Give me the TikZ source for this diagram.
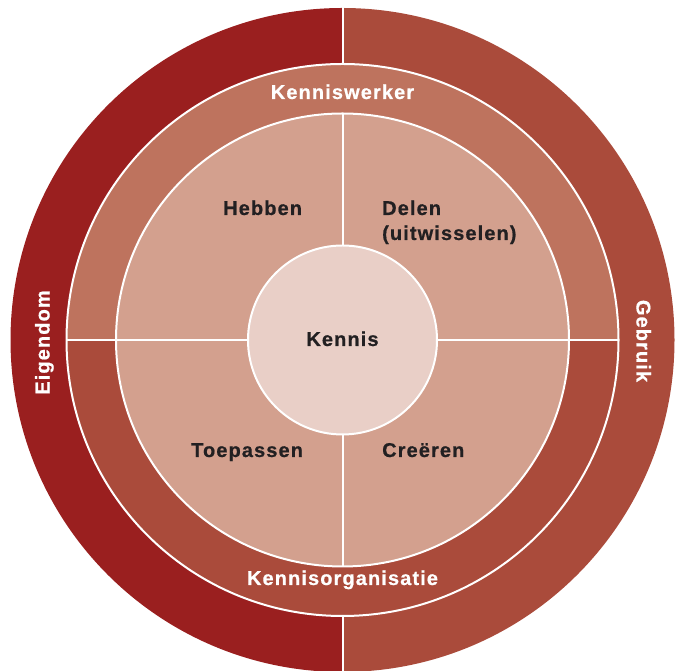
\documentclass[tikz,border=0pt]{standalone}
\usepackage{fontspec}
\setmainfont{Liberation Sans}
\newfontfamily\labfont{Liberation Sans}[LetterSpace=5.5,BoldFeatures={FakeBold=0.6}]
\definecolor{outL}{HTML}{9A1F1F}
\definecolor{outR}{HTML}{AA4B3B}
\definecolor{midT}{HTML}{BE735E}
\definecolor{midB}{HTML}{AA4B3B}
\definecolor{quad}{HTML}{D3A08E}
\definecolor{centre}{HTML}{E9CFC7}
\definecolor{ink}{HTML}{222022}
\begin{document}
\begin{tikzpicture}[x=1pt,y=1pt,
  wl/.style={draw=white,line width=2pt},
  lab/.style={font=\labfont\bfseries\fontsize{20}{25}\selectfont,inner sep=0pt},
  ringlab/.style={lab,text=white},
  quadlab/.style={lab,text=ink,anchor=base west}]
\useasboundingbox (0,0) rectangle (680,671);
\clip (0,0) rectangle (680,671);
\coordinate (C) at (342.5,331);
% outer ring halves
\fill[outL] (C) ++(0,332) arc[start angle=90,end angle=270,radius=332] -- cycle;
\fill[outR] (C) ++(0,332) arc[start angle=90,end angle=-90,radius=332] -- cycle;
\draw[wl] ([yshift=340pt]C) -- ([yshift=-340pt]C);
% middle ring halves
\fill[midT] (C) ++(276,0) arc[start angle=0,end angle=180,radius=276] -- cycle;
\fill[midB] (C) ++(276,0) arc[start angle=0,end angle=-180,radius=276] -- cycle;
\draw[wl] (C) circle[radius=276];
\draw[wl] ([xshift=-276pt]C) -- ([xshift=276pt]C);
% inner quadrants
\fill[quad] (C) circle[radius=226.5];
\draw[wl] (C) circle[radius=226.5];
\draw[wl] ([xshift=-226.5pt]C) -- ([xshift=226.5pt]C);
\draw[wl] ([yshift=226.5pt]C) -- ([yshift=-226.5pt]C);
% centre
\fill[centre] (C) circle[radius=94.5];
\draw[wl] (C) circle[radius=94.5];
% labels
\node[lab,text=ink,anchor=base] (kennis) at (342.5,325) {Kennis};
\node[quadlab] (hebben) at (223,456) {Hebben};
\node[quadlab] (delen) at (382,456) {Delen};
\node[quadlab] (uitw) at (382,431) {(uitwisselen)};
\node[quadlab] (toep) at (191,214) {Toepassen};
\node[quadlab] (creeren) at (382,214) {Creëren};
\node[ringlab,anchor=base] (kw) at (342.5,572) {Kenniswerker};
\node[ringlab,anchor=base] (ko) at (342.5,86) {Kennisorganisatie};
\node[ringlab,anchor=base,rotate=90] (eig) at (49.5,328.5) {Eigendom};
\node[ringlab,anchor=base,rotate=-90] (geb) at (636.5,330) {Gebruik};
\end{tikzpicture}
\end{document}
